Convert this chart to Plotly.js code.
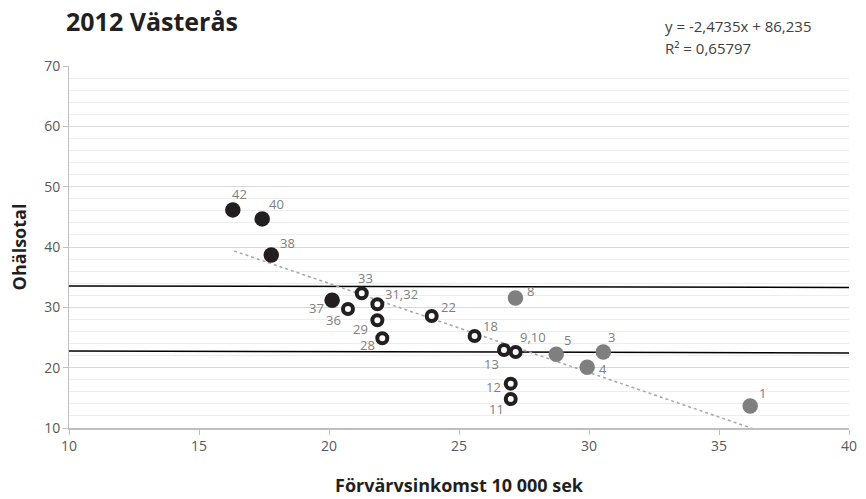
<!DOCTYPE html>
<html>
<head>
<meta charset="utf-8">
<script src="https://cdn.plot.ly/plotly-3.0.1.min.js"></script>
<style>
html,body{margin:0;padding:0;background:#fff;}
#chart{width:866px;height:499px;}
</style>
</head>
<body>
<div id="chart"></div>
<script>
// Data
const blackLabels = ["42", "40", "38", "37"];
const blackX = [16.3, 17.43, 17.78, 20.12];
const blackY = [46.15, 44.66, 38.69, 31.18];

const ringLabels = ["36", "33", "31,32", "29", "28", "22", "18", "13", "9,10", "12", "11"];
const ringX = [20.73, 21.26, 21.86, 21.86, 22.05, 23.95, 25.6, 26.73, 27.18, 26.99, 26.99];
const ringY = [29.73, 32.34, 30.51, 27.86, 24.87, 28.57, 25.26, 22.94, 22.6, 17.35, 14.81];

const greyLabels = ["8", "5", "3", "4", "1"];
const greyX = [27.17, 28.74, 30.55, 29.93, 36.2];
const greyY = [31.56, 22.22, 22.6, 20.06, 13.65];

const trendX = [16.35, 36.3];
const trendY = [39.35, 9.9];

const lineX = [10, 40];
const upperY = [33.55, 33.3];
const lowerY = [22.78, 22.42];

const xTicks = [10, 15, 20, 25, 30, 35, 40];
const yTicks = [10, 20, 30, 40, 50, 60, 70];

// Label offsets (pixels), styling only
const blackDx = [7, 14, 16, -16], blackDy = [-16, -15, -12, 8];
const ringDx = [-14, 4, 24, -17, -15, 17, 16, -12, 17, -17, -14];
const ringDy = [11, -15, -10, 9, 7, -9, -10, 14, -15, 3, 10];
const greyDx = [15, 11, 8, 16, 12], greyDy = [-7, -14, -15, 2, -13];

const FONT = "Open Sans, sans-serif";

const traces = [
  {x: lineX, y: upperY, mode: "lines", line: {color: "#000", width: 1.5}, hoverinfo: "skip"},
  {x: lineX, y: lowerY, mode: "lines", line: {color: "#000", width: 1.5}, hoverinfo: "skip"},
  {x: trendX, y: trendY, mode: "lines", line: {color: "#a6a6a6", width: 1.5, dash: "dot"}, hoverinfo: "skip"},
  {x: blackX, y: blackY, mode: "markers", marker: {size: 15.5, color: "#231f20"}},
  {x: ringX, y: ringY, mode: "markers", marker: {size: 10, color: "#fff", line: {color: "#231f20", width: 4}}},
  {x: greyX, y: greyY, mode: "markers", marker: {size: 15.5, color: "#7f7f7f"}}
];

const annotations = [];
function addLabels(labels, xs, ys, dx, dy) {
  labels.forEach((t, i) => annotations.push({
    x: xs[i], y: ys[i], xref: "x", yref: "y", text: t, showarrow: false,
    xshift: dx[i], yshift: -dy[i], font: {family: FONT, size: 13, color: "#808080"}
  }));
}
addLabels(blackLabels, blackX, blackY, blackDx, blackDy);
addLabels(ringLabels, ringX, ringY, ringDx, ringDy);
addLabels(greyLabels, greyX, greyY, greyDx, greyDy);

annotations.push({
  xref: "paper", yref: "paper", x: 0.761, y: 1.1105, xanchor: "left", yanchor: "middle",
  text: "y = -2,4735x + 86,235", showarrow: false, font: {family: FONT, size: 15, color: "#404040"}
});
annotations.push({
  xref: "paper", yref: "paper", x: 0.761, y: 1.0497, xanchor: "left", yanchor: "middle",
  text: "R² = 0,65797", showarrow: false, font: {family: FONT, size: 15, color: "#404040"}
});

const layout = {
  width: 866, height: 499,
  margin: {l: 69, r: 17, t: 66, b: 71},
  paper_bgcolor: "#fff", plot_bgcolor: "#fff",
  showlegend: false,
  title: {
    text: "2012 Västerås", xref: "container", yref: "container",
    x: 66 / 866, xanchor: "left", y: 1 - 22 / 499, yanchor: "middle",
    font: {family: FONT, size: 25, color: "#231f20", weight: 700}
  },
  xaxis: {
    range: [10, 40], tickvals: xTicks, ticktext: xTicks.map(String),
    showgrid: false, zeroline: false,
    showline: true, linecolor: "#bfbfbf", linewidth: 1.5,
    ticks: "outside", ticklen: 5, tickcolor: "#bfbfbf",
    tickfont: {family: FONT, size: 14, color: "#595959"},
    title: {text: "Förvärvsinkomst 10 000 sek", standoff: 25,
            font: {family: FONT, size: 18, color: "#231f20", weight: 700}}
  },
  yaxis: {
    range: [10, 70], tickvals: yTicks, ticktext: yTicks.map(String),
    showgrid: true, gridcolor: "#d9d9d9", gridwidth: 1, zeroline: false,
    minor: {dtick: 2, showgrid: true, gridcolor: "#ededed", gridwidth: 1},
    showline: true, linecolor: "#bfbfbf", linewidth: 1,
    ticks: "outside", ticklen: 5, tickcolor: "#bfbfbf",
    tickfont: {family: FONT, size: 14, color: "#595959"},
    title: {text: "Ohälsotal", standoff: 12,
            font: {family: FONT, size: 18, color: "#231f20", weight: 700}}
  },
  annotations: annotations
};

Plotly.newPlot("chart", traces, layout, {displayModeBar: false, staticPlot: true});
</script>
</body>
</html>
